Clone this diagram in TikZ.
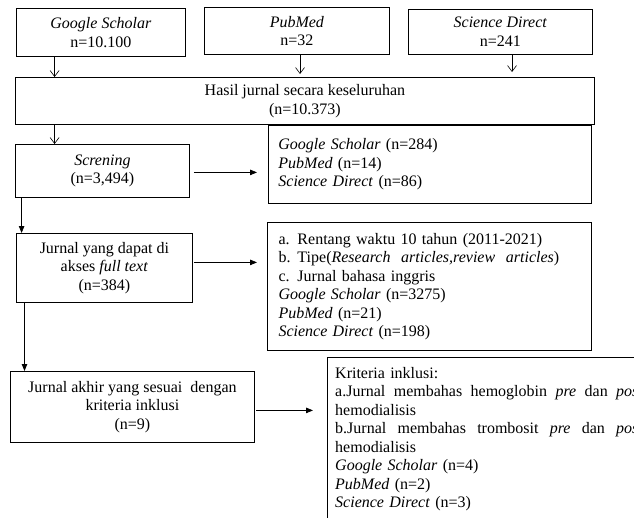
\documentclass[tikz,border=0pt]{standalone}
\usepackage{fontspec}
\setmainfont{Liberation Serif}
\usetikzlibrary{arrows.meta}
\newcommand\jgap{\hskip 4pt plus 1fill\relax}
\newcommand\jline[1]{\leavevmode\hbox to 308pt{#1}}

\begin{document}
\begin{tikzpicture}[x=1pt,y=-1pt,
  font=\fontsize{16}{18.5}\selectfont,
  box/.style={draw,line width=0.8pt,align=center,inner sep=0pt,anchor=north west},
  lbox/.style={draw,line width=0.8pt,align=left,inner xsep=10pt,inner ysep=0pt,anchor=north west},
  vee/.style={-{Straight Barb[length=6pt,width=9pt]},line width=0.6pt},
  tri/.style={-{Triangle[length=7pt,width=5.5pt]},line width=0.8pt}]
\clip (0,0) rectangle (634,517);

% Sources
\node[box,minimum width=169pt,minimum height=48pt] (gs) at (16,8) {\textit{Google Scholar}\\n=10.100};
\node[box,minimum width=185pt,minimum height=47pt] (pm) at (204,7) {\textit{PubMed}\\n=32};
\node[box,minimum width=184pt,minimum height=45pt] (sd) at (408,9) {\textit{Science Direct}\\n=241};

% Total
\node[box,minimum width=579pt,minimum height=47pt] (hasil) at (15,77) {Hasil jurnal secara keseluruhan\\(n=10.373)};

\foreach \src/\dx/\gap in {gs/38.6/0,pm/96/3,sd/104/5}
  \draw[vee,shorten >=\gap pt] ([xshift=\dx pt]\src.south west) coordinate (t) -- (t |- hasil.north);

% Screening
\node[box,minimum width=174pt,minimum height=53pt] (scr) at (15,144) {\textit{Screning}\\(n=3,494)};
\node[lbox,text width=303pt,minimum height=78pt] (scrn) at (268,125) {\textit{Google Scholar} (n=284)\\\textit{PubMed} (n=14)\\\textit{Science Direct} (n=86)};

% Full text
\node[box,minimum width=176pt,minimum height=69pt] (jur) at (16,233) {Jurnal yang dapat di\\akses \textit{full text}\\(n=384)};
\node[lbox,inner xsep=11pt,line width=1pt,text width=302pt,minimum height=128pt] (jurn) at (267,222) {\makebox[19pt][l]{a.}Rentang waktu 10 tahun (2011-2021)\\\makebox[19pt][l]{b.}Tipe(\textit{Research\ \ articles,review\ \ articles})\\\makebox[19pt][l]{c.}Jurnal bahasa inggris\\\textit{Google Scholar} (n=3275)\\\textit{PubMed} (n=21)\\\textit{Science Direct} (n=198)};

% Final
\node[box,minimum width=244pt,minimum height=71pt] (fin) at (10,371) {Jurnal akhir yang sesuai\ \ dengan\\kriteria inklusi\\(n=9)};
\node[box,line width=1.1pt,minimum width=400pt,minimum height=200pt] (krit) at (327,357) {};
\node[anchor=north west,inner sep=0pt,text width=312pt,align=left] (kritx) at ([shift={(8pt,-10pt)}]krit.north west) {Kriteria inklusi:\\\jline{a.Jurnal\jgap membahas\jgap hemoglobin\jgap\textit{pre}\jgap dan\jgap\textit{post}}\\hemodialisis\\\jline{b.Jurnal\jgap membahas\jgap trombosit\jgap\textit{pre}\jgap dan\jgap\textit{post}}\\hemodialisis\\\textit{Google Scholar} (n=4)\\\textit{PubMed} (n=2)\\\textit{Science Direct} (n=3)};

% Connectors
\draw[vee] ([xshift=39.6pt]hasil.south west) coordinate (t) -- (t |- scr.north);
\draw[tri] ([xshift=6.6pt]scr.south west) coordinate (t) -- (t |- jur.north);
\draw[tri] ([xshift=8.5pt]jur.south west) coordinate (t) -- (t |- fin.north);
\draw[tri,shorten <=4pt,shorten >=11pt] ([yshift=-1.5pt]scr.east) -- ([yshift=-1.5pt]scr.east -| scrn.west);
\draw[tri,shorten <=1pt,shorten >=10pt] ([yshift=5.5pt]jur.east) -- ([yshift=5.5pt]jur.east -| jurn.west);
\draw[tri,shorten <=1.5pt,shorten >=14pt] ([yshift=-3.5pt]fin.east) -- ([yshift=-3.5pt]fin.east -| krit.west);
\end{tikzpicture}
\end{document}
